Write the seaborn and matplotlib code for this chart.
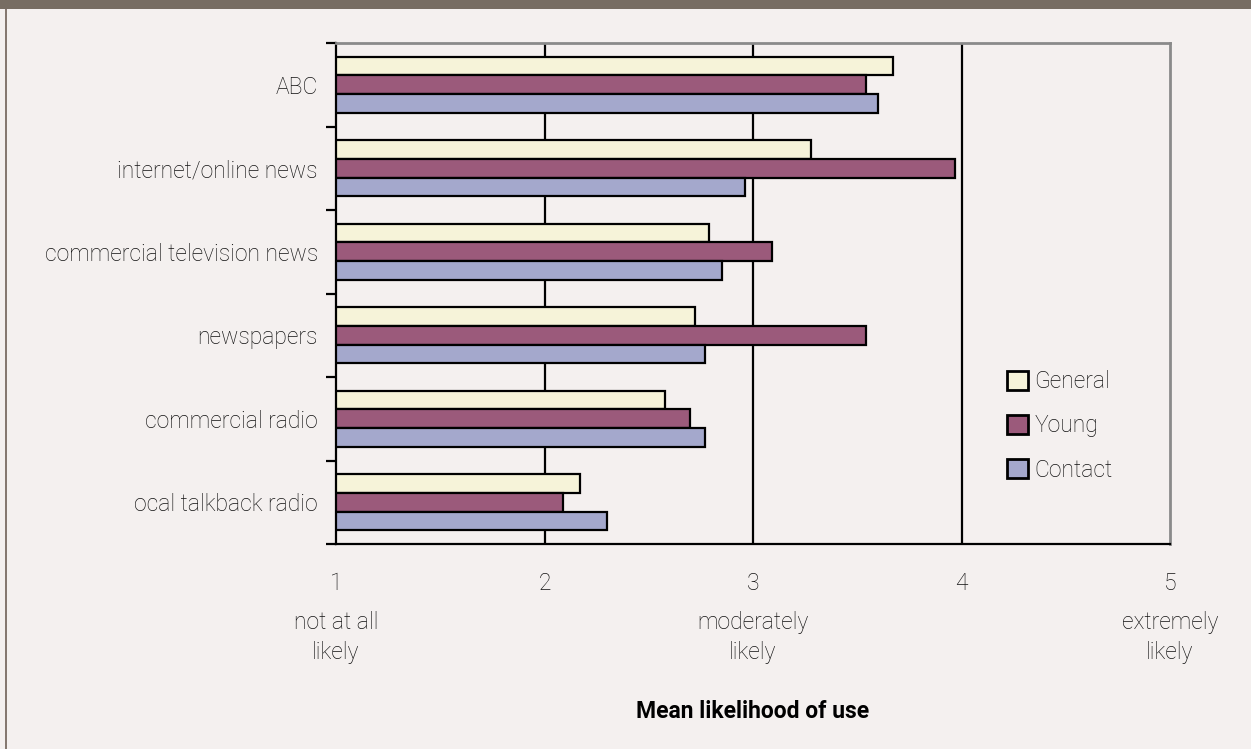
import matplotlib
matplotlib.use("Agg")
import matplotlib.pyplot as plt
import numpy as np
import pandas as pd
import seaborn as sns
from matplotlib.patches import Rectangle

# Mean likelihood of using each news source, by sample group
sources = ["ABC", "internet/online news", "commercial television news",
           "newspapers", "commercial radio", "ocal talkback radio"]
groups = ["General", "Young", "Contact"]
general = [3.67, 3.28, 2.79, 2.72, 2.58, 2.17]
young = [3.54, 3.97, 3.09, 3.54, 2.70, 2.09]
contact = [3.60, 2.96, 2.85, 2.77, 2.77, 2.30]

scale_ticks = [1, 2, 3, 4, 5]
scale_anchors = {1: "not at all\nlikely", 3: "moderately\nlikely", 5: "extremely\nlikely"}
x_title = "Mean likelihood of use"

group_colors = {"General": "#fbf7d4", "Young": "#a64f7b", "Contact": "#9ea3d2"}

df = pd.DataFrame({
    "source": sources * 3,
    "group": np.repeat(groups, len(sources)),
    "value": general + young + contact,
})

sns.set_theme(style="white")
FONT = ["Roboto", "DejaVu Sans"]
plt.rcParams["font.family"] = FONT
plt.rcParams["font.weight"] = "light"
TXT = "#111111"
plt.rcParams["text.color"] = TXT

BG = "#f4f0ef"
fig = plt.figure(figsize=(12.51, 7.49), dpi=100, facecolor=BG)

# page frame: dark band across the top, thin rule down the left side
fig.patches.append(Rectangle((0, 1 - 9 / 749), 1, 9 / 749, transform=fig.transFigure,
                             facecolor="#776d63", edgecolor="none", zorder=0))
fig.patches.append(Rectangle((5 / 1251, 0), 2 / 1251, 1 - 9 / 749, transform=fig.transFigure,
                             facecolor="#857870", edgecolor="none", zorder=0))

ax = fig.add_axes([336 / 1251, 1 - 544 / 749, (1170 - 336) / 1251, (544 - 43) / 749])
ax.set_facecolor(BG)

sns.barplot(data=df, x="value", y="source", hue="group", order=sources,
            hue_order=groups, palette=group_colors, orient="h", width=0.667,
            edgecolor="black", linewidth=1.6, errorbar=None, ax=ax)

ax.set_xlim(scale_ticks[0], scale_ticks[-1])
ax.set_ylim(len(sources) - 0.5, -0.5)

for v in scale_ticks[1:-1]:
    ax.axvline(v, color="black", lw=1.6, zorder=0.5)

for side in ("left", "bottom"):
    ax.spines[side].set_color("black")
    ax.spines[side].set_linewidth(1.6)
for side in ("top", "right"):
    ax.spines[side].set_color("#8a8a8a")
    ax.spines[side].set_linewidth(2)

ax.set_xticks(scale_ticks)
ax.set_xticklabels([str(t) for t in scale_ticks])
ax.tick_params(axis="x", direction="out", length=6, width=1.6, color="black",
               pad=14, labelsize=16.5, labelcolor=TXT)

ax.set_yticks(range(len(sources)))
ax.set_yticklabels(sources)
ax.tick_params(axis="y", which="major", length=0, pad=13, labelsize=16.5,
               labelcolor=TXT)
ax.set_yticks(np.arange(-0.5, len(sources)), minor=True)
ax.tick_params(axis="y", which="minor", direction="out", length=7, width=1.6,
               color="black", left=True)

ax.set_xlabel("")
ax.set_ylabel("")

for v, txt in scale_anchors.items():
    ax.text(v, -0.187, txt, transform=ax.get_xaxis_transform(), ha="center",
            va="center", fontsize=16.5, linespacing=1.38, color=TXT)

fig.text(753 / 1251, 1 - 712 / 749, x_title, ha="center", va="center",
         fontsize=16.5, fontweight="bold", color="black")

handles, labels = ax.get_legend_handles_labels()
ax.legend_.remove()
leg = fig.legend(handles, labels, loc="upper left",
                 bbox_to_anchor=(1007 / 1251, 1 - 370 / 749),
                 frameon=False, fontsize=16.5, handlelength=0.9, handleheight=0.9,
                 handletextpad=0.3, labelspacing=0.93, borderaxespad=0, borderpad=0)
for h in leg.legend_handles:
    h.set_edgecolor("black")
    h.set_linewidth(2)

fig.savefig("out.png", dpi=100, facecolor=BG)
